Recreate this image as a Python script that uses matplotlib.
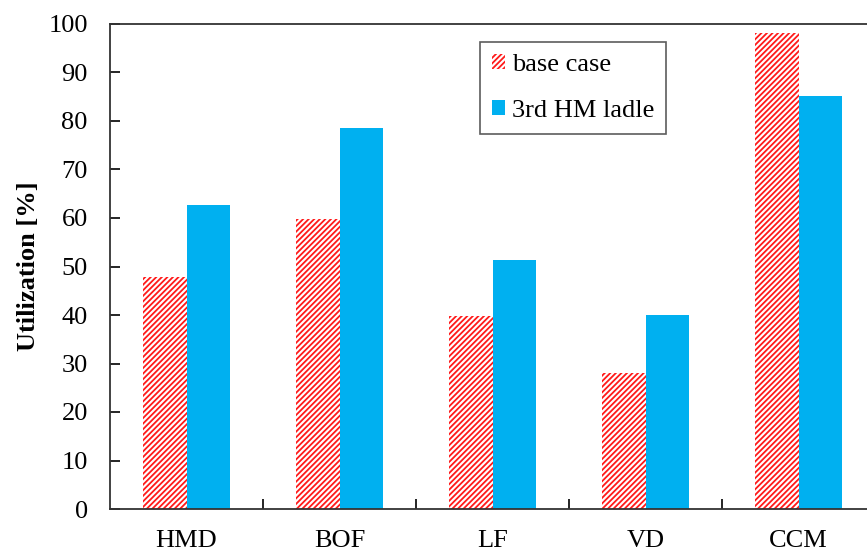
import matplotlib
matplotlib.use("Agg")
import matplotlib.pyplot as plt
import numpy as np

categories = ["HMD", "BOF", "LF", "VD", "CCM"]
base_case = [47.8, 59.8, 39.8, 28.0, 98.2]
third_ladle = [62.7, 78.6, 51.4, 40.0, 85.2]
yticks = [0, 10, 20, 30, 40, 50, 60, 70, 80, 90, 100]

plt.rcParams['font.family'] = ['Liberation Serif', 'DejaVu Serif']
plt.rcParams['hatch.linewidth'] = 1.3
plt.rcParams['hatch.color'] = '#ff1a1a'

fig = plt.figure(figsize=(8.67, 5.52), dpi=100)
ax = fig.add_axes([110/867, 43/552, 765/867, 485/552])

x = np.arange(len(categories))
w = 0.285
ax.bar(x - w/2, base_case, width=w, color='white', edgecolor='#ff1a1a',
       hatch='//////', linewidth=0, label='base case')
ax.bar(x + w/2, third_ladle, width=w, color='#00b0f0', linewidth=0,
       label='3rd HM ladle')

ax.set_xlim(-0.5, len(categories) - 0.5)
ax.set_ylim(0, 100)
ax.set_yticks(yticks)
ax.set_yticklabels([str(t) for t in yticks], fontsize=19)
ax.set_xticks(x)
ax.set_xticklabels(categories, fontsize=19)
ax.set_xticks(np.arange(len(categories) - 1) + 0.5, minor=True)
ax.tick_params(axis='x', which='major', length=0, pad=15)
ax.tick_params(axis='x', which='minor', direction='in', length=7, width=1.2)
ax.tick_params(axis='y', direction='in', length=7, width=1.2, pad=16)
for s in ax.spines.values():
    s.set_linewidth(1.3)
    s.set_color('#333333')
ax.spines['right'].set_visible(False)

ax.set_ylabel('Utilization [%]', fontsize=19, fontweight='bold', labelpad=6)

leg = ax.legend(loc='upper left', bbox_to_anchor=(0.484, 0.962), fontsize=19,
                frameon=True, fancybox=False, edgecolor='#333333',
                handlelength=0.5, handleheight=0.5, handletextpad=0.25,
                labelspacing=0.9, borderpad=0.45, borderaxespad=0)
leg.get_frame().set_linewidth(1.2)

fig.savefig('out.png', dpi=100)
